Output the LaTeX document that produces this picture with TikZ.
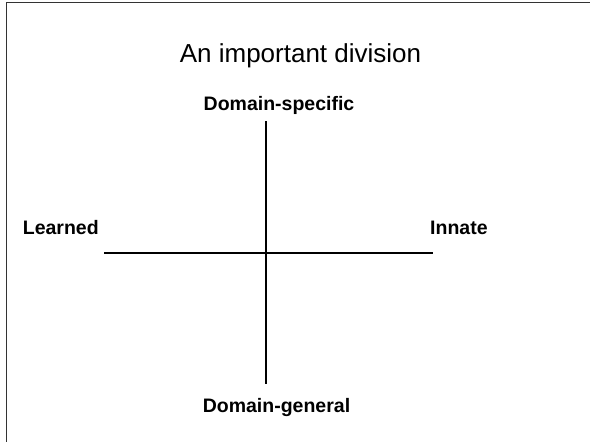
\documentclass[tikz,border=0pt]{standalone}
\usepackage{fontspec}
\setmainfont{Liberation Sans}
\begin{document}
\begin{tikzpicture}[x=1pt,y=-1pt,inner sep=0pt,
    lbl/.style={font=\fontsize{19.5}{23}\selectfont\bfseries}]
        \useasboundingbox (0,0) rectangle (590,442);
        \draw[black!80,line width=1.3pt] (6.5,442) -- (6.5,2.5) -- (590,2.5);
        \node[anchor=base,font=\fontsize{26}{31}\selectfont] (title) at (300.5,62.7) {An important division};
        \node[lbl,anchor=base] (spec) at (279,110) {Domain-specific};
        \node[lbl,anchor=base] (gen) at (276.5,412) {Domain-general};
        \node[lbl,anchor=base west] (learn) at (22.7,234) {Learned};
        \node[lbl,anchor=base west] (innate) at (430,234) {Innate};
        \coordinate (top) at (266,121);
        \coordinate (bot) at (266,384);
        \coordinate (lft) at (104,252.7);
        \coordinate (rgt) at (433.3,252.7);
        \draw[line width=2pt] (top) -- (bot);
        \draw[line width=2pt] (lft) -- (rgt);
    \end{tikzpicture}
\end{document}
